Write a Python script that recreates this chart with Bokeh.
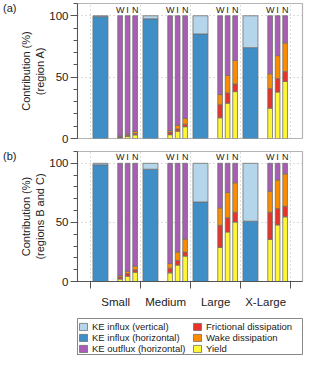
from bokeh.plotting import figure
from bokeh.layouts import column
from bokeh.models import (Range1d, FixedTicker, Legend, LegendItem,
                          ColumnDataSource, LinearAxis)
from bokeh.core.properties import value
from bokeh.embed import file_html
from bokeh.resources import INLINE

FONT = "Liberation Sans"

sizes = ["Small", "Medium", "Large", "X-Large"]
cases = ["W", "I", "N"]

# ---- panel (a): region A ----
a_in_vert = [0.7, 2.5, 14.8, 26.0]
a_in_horiz = [99.3, 97.5, 85.2, 74.0]
a_W_yield = [0.7, 3.1, 16.9, 24.7]
a_W_fric = [0.8, 2.1, 10.9, 16.1]
a_W_wake = [0.5, 1.3, 8.0, 11.9]
a_W_out = [98.0, 93.5, 64.2, 47.3]
a_I_yield = [1.8, 6.0, 28.8, 37.9]
a_I_fric = [0.8, 1.8, 8.3, 10.9]
a_I_wake = [1.0, 3.1, 14.3, 18.7]
a_I_out = [96.4, 89.1, 48.6, 32.5]
a_N_yield = [3.0, 9.6, 38.2, 46.5]
a_N_fric = [1.0, 2.1, 6.2, 8.0]
a_N_wake = [1.7, 4.7, 19.2, 23.4]
a_N_out = [94.3, 83.6, 36.4, 22.1]

# ---- panel (b): regions B and C ----
b_in_vert = [1.3, 5.0, 32.7, 49.0]
b_in_horiz = [98.7, 95.0, 67.3, 51.0]
b_W_yield = [2.1, 7.3, 28.8, 35.6]
b_W_fric = [1.8, 4.0, 18.8, 23.0]
b_W_wake = [1.3, 3.9, 14.7, 17.8]
b_W_out = [94.8, 84.8, 37.7, 23.6]
b_I_yield = [4.5, 13.9, 41.9, 47.9]
b_I_fric = [2.3, 3.9, 12.0, 13.9]
b_I_wake = [1.8, 7.1, 21.5, 24.1]
b_I_out = [91.4, 75.1, 24.6, 14.1]
b_N_yield = [7.9, 21.5, 50.3, 54.7]
b_N_fric = [2.0, 3.4, 8.3, 8.9]
b_N_wake = [3.2, 11.0, 24.9, 27.5]
b_N_out = [86.9, 64.1, 16.5, 8.9]

y_ticks = [0, 50, 100]
y_minor = [0, 10, 20, 30, 40, 60, 70, 80, 90, 110]

legend_col1 = ["KE influx (vertical)", "KE influx (horizontal)",
               "KE outflux (horizontal)"]
legend_col2 = ["Frictional dissipation", "Wake dissipation", "Yield"]

C_VERT = "#b5d6ea"
C_HORIZ = "#3f8ec6"
C_OUT = "#a95db5"
C_FRIC = "#e8332b"
C_WAKE = "#fb8c00"
C_YIELD = "#fff735"
EDGE = "#707070"
AX = "#555555"
TXT = "#222222"

BIG_OFF, BIG_W = 0.197, 0.30
CASE_OFF = {"W": 0.59, "I": 0.74, "N": 0.89}
THIN_W = 0.094
FRAME_H = 135


def make_panel(tag, ylabel, vert, horiz, thin, bottom_axis):
    top = 3 if not bottom_axis else 5
    bottom = 8 if not bottom_axis else 24
    p = figure(output_backend="svg", toolbar_location=None,
               width=304, height=FRAME_H + top + bottom,
               x_range=Range1d(-0.2625, 4.2375), y_range=Range1d(0, 110),
               min_border_left=66, min_border_right=2,
               min_border_top=top, min_border_bottom=bottom)
    p.background_fill_color = "white"
    p.border_fill_color = "white"
    p.outline_line_color = "#b4b4b4"
    p.outline_line_width = 1.2

    p.xgrid.ticker = FixedTicker(ticks=[0, 1, 2, 3, 4])
    p.ygrid.ticker = FixedTicker(ticks=y_ticks)
    for g in (p.xgrid, p.ygrid):
        g.grid_line_color = "#b8b8b8"
        g.grid_line_dash = "1 3"
        g.grid_line_width = 1

    ya = p.yaxis[0]
    ya.ticker = FixedTicker(ticks=y_ticks, minor_ticks=y_minor)
    ya.axis_label = ylabel
    ya.axis_label_text_font = FONT
    ya.axis_label_text_font_style = "normal"
    ya.axis_label_text_font_size = "11px"
    ya.axis_label_text_color = TXT
    ya.axis_label_standoff = 0
    ya.major_label_text_font = FONT
    ya.major_label_text_font_size = "11.5px"
    ya.major_label_text_color = TXT
    ya.major_label_standoff = 2
    ya.axis_line_color = AX
    ya.major_tick_line_color = AX
    ya.minor_tick_line_color = AX
    ya.major_tick_out = 7
    ya.major_tick_in = 0
    ya.minor_tick_out = 4
    ya.minor_tick_in = 0

    # outer axis carrying only the panel tag "(a)" / "(b)" in the top-left corner
    tag_axis = LinearAxis(ticker=FixedTicker(ticks=[106], minor_ticks=[]),
                          major_label_overrides={106: tag},
                          axis_line_color=None, major_tick_line_color=None,
                          minor_tick_line_color=None, major_tick_out=0,
                          major_tick_in=0, minor_tick_out=0, minor_tick_in=0,
                          major_label_standoff=0,
                          major_label_text_font=FONT,
                          major_label_text_font_size="11px",
                          major_label_text_color=TXT)
    p.add_layout(tag_axis, "left")

    xa = p.xaxis[0]
    if bottom_axis:
        xa.ticker = FixedTicker(ticks=[0.5, 1.5, 2.5, 3.5],
                                minor_ticks=[0, 1, 2, 3, 4])
        xa.major_label_overrides = {0.5: sizes[0], 1.5: sizes[1],
                                    2.5: sizes[2], 3.5: sizes[3]}
        xa.major_tick_line_color = None
        xa.major_tick_out = 0
        xa.major_tick_in = 0
        xa.minor_tick_out = 7
        xa.minor_tick_in = 0
        xa.minor_tick_line_color = AX
        xa.axis_line_color = AX
        xa.major_label_text_font = FONT
        xa.major_label_text_font_size = "11.5px"
        xa.major_label_text_color = TXT
        xa.major_label_standoff = 7
    else:
        xa.visible = False

    big = ColumnDataSource(dict(
        x=[i + BIG_OFF for i in range(len(sizes))],
        horiz=horiz, vert=vert))
    p.vbar_stack(["horiz", "vert"], x="x", width=BIG_W, source=big,
                 fill_color=[C_HORIZ, C_VERT], line_color=EDGE,
                 line_width=0.8)

    xs, yl, fr, wk, ou, lab = [], [], [], [], [], []
    for c in cases:
        y_, f_, w_, o_ = thin[c]
        for i in range(len(sizes)):
            xs.append(i + CASE_OFF[c])
            yl.append(y_[i]); fr.append(f_[i]); wk.append(w_[i]); ou.append(o_[i])
            lab.append(c)
    thin_src = ColumnDataSource(dict(x=xs, yld=yl, fric=fr, wake=wk, out=ou,
                                     lab=lab, ly=[105] * len(xs)))
    p.vbar_stack(["yld", "fric", "wake", "out"], x="x", width=THIN_W,
                 source=thin_src,
                 fill_color=[C_YIELD, C_FRIC, C_WAKE, C_OUT],
                 line_color=EDGE, line_width=0.8)

    p.text(x="x", y="ly", text="lab", source=thin_src,
           text_font=value(FONT), text_font_size="9px",
           text_align="center", text_baseline="middle",
           text_color=TXT)
    return p


pa = make_panel("(a)", "Contribution (%)\n(region A)",
                a_in_vert, a_in_horiz,
                {"W": (a_W_yield, a_W_fric, a_W_wake, a_W_out),
                 "I": (a_I_yield, a_I_fric, a_I_wake, a_I_out),
                 "N": (a_N_yield, a_N_fric, a_N_wake, a_N_out)},
                False)
pb = make_panel("(b)", "Contribution (%)\n(regions B and C)",
                b_in_vert, b_in_horiz,
                {"W": (b_W_yield, b_W_fric, b_W_wake, b_W_out),
                 "I": (b_I_yield, b_I_fric, b_I_wake, b_I_out),
                 "N": (b_N_yield, b_N_fric, b_N_wake, b_N_out)},
                True)

# ---- legend box (its own small figure) ----
pl = figure(output_backend="svg", toolbar_location=None,
            width=304, height=45, x_range=Range1d(0, 1), y_range=Range1d(0, 1),
            x_axis_location=None, y_axis_location=None,
            min_border_left=74, min_border_right=1,
            min_border_top=8, min_border_bottom=1)
pl.grid.visible = False
pl.outline_line_color = "#888888"
pl.outline_line_width = 1
pl.border_fill_color = "white"


def legend_for(names, colors, loc):
    its = []
    for n, c in zip(names, colors):
        # proxy glyph kept outside the visible range; only its swatch is shown
        r = pl.vbar(x=[-5], top=[-5], width=0.1, fill_color=c,
                    line_color=EDGE, line_width=0.8)
        its.append(LegendItem(label=n, renderers=[r]))
    lg = Legend(items=its, location=loc, orientation="vertical",
                label_text_font=FONT, label_text_font_size="9.5px",
                label_text_color=TXT, glyph_width=10, glyph_height=9,
                label_height=10, label_standoff=4, spacing=0, padding=3,
                margin=0, border_line_color=None,
                background_fill_alpha=0)
    pl.add_layout(lg)


legend_for(legend_col1, [C_VERT, C_HORIZ, C_OUT], (1, 0))
legend_for(legend_col2, [C_FRIC, C_WAKE, C_YIELD], (115, 0))

layout = column(pa, pb, pl, spacing=0)
open("out.html", "w").write(file_html(layout, INLINE))
